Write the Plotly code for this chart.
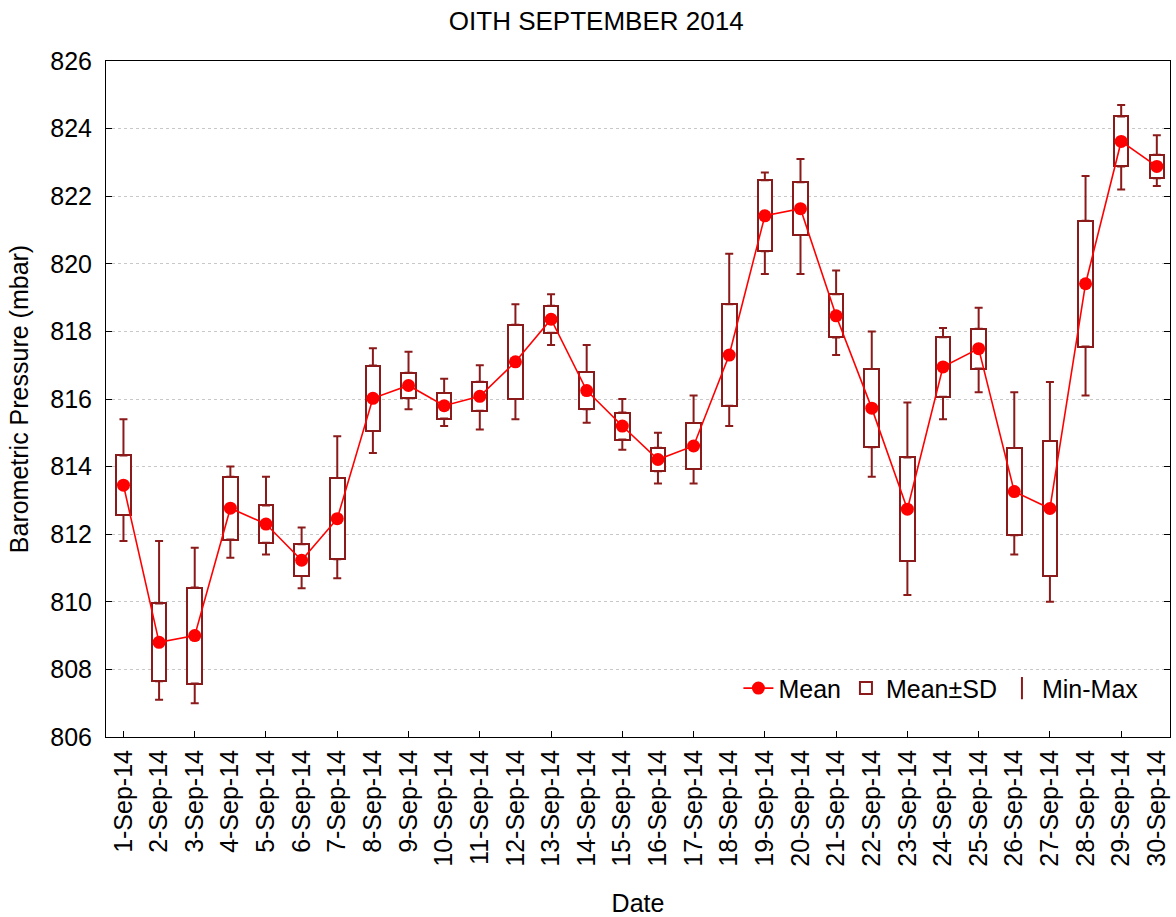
import plotly.graph_objects as go

dates = ["1-Sep-14", "2-Sep-14", "3-Sep-14", "4-Sep-14", "5-Sep-14", "6-Sep-14",
         "7-Sep-14", "8-Sep-14", "9-Sep-14", "10-Sep-14", "11-Sep-14", "12-Sep-14",
         "13-Sep-14", "14-Sep-14", "15-Sep-14", "16-Sep-14", "17-Sep-14", "18-Sep-14",
         "19-Sep-14", "20-Sep-14", "21-Sep-14", "22-Sep-14", "23-Sep-14", "24-Sep-14",
         "25-Sep-14", "26-Sep-14", "27-Sep-14", "28-Sep-14", "29-Sep-14", "30-Sep-14"]

means = [813.45, 808.80, 809.00, 812.77, 812.30, 811.23, 812.46, 816.02, 816.40, 815.80,
         816.08, 817.10, 818.36, 816.25, 815.20, 814.21, 814.61, 817.30, 821.42, 821.63,
         818.46, 815.73, 812.74, 816.95, 817.49, 813.26, 812.76, 819.41, 823.62, 822.88]

sds = [0.88, 1.15, 1.42, 0.93, 0.55, 0.47, 1.20, 0.97, 0.38, 0.38,
       0.43, 1.10, 0.40, 0.55, 0.40, 0.35, 0.68, 1.50, 1.05, 0.78,
       0.64, 1.16, 1.53, 0.88, 0.59, 1.29, 2.00, 1.86, 0.74, 0.35]

mins = [811.8, 807.1, 807.0, 811.3, 811.4, 810.4, 810.7, 814.4, 815.7, 815.2,
        815.1, 815.4, 817.6, 815.3, 814.5, 813.5, 813.5, 815.2, 819.7, 819.7,
        817.3, 813.7, 810.2, 815.4, 816.2, 811.4, 810.0, 816.1, 822.2, 822.3]

maxs = [815.4, 811.8, 811.6, 814.0, 813.7, 812.2, 814.9, 817.5, 817.4, 816.6,
        817.0, 818.8, 819.1, 817.6, 816.0, 815.0, 816.1, 820.3, 822.7, 823.1,
        819.8, 818.0, 815.9, 818.1, 818.7, 816.2, 816.5, 822.6, 824.7, 823.8]

y_ticks = [806, 808, 810, 812, 814, 816, 818, 820, 822, 824, 826]

DARK = "#8B1A1A"
RED = "#FF0000"
FONT = "Liberation Sans, Arial, sans-serif"
FS = 25

xs = list(range(len(dates)))
upper = [m + s for m, s in zip(means, sds)]
lower = [m - s for m, s in zip(means, sds)]

fig = go.Figure()

# Mean ± SD boxes
fig.add_trace(go.Bar(
    x=xs, y=[2 * s for s in sds], base=lower, width=0.41,
    marker=dict(color="white", line=dict(color=DARK, width=2)),
    name="Mean±SD", showlegend=True, hoverinfo="skip", legendrank=2,
))

# Whiskers (upper and lower) with caps
fig.add_trace(go.Scatter(
    x=xs, y=upper, mode="markers", marker=dict(size=0.1, color="rgba(0,0,0,0)"),
    error_y=dict(type="data", symmetric=False,
                 array=[mx - u for mx, u in zip(maxs, upper)],
                 arrayminus=[0] * len(xs), color=DARK, thickness=2, width=4),
    showlegend=False, hoverinfo="skip",
))
fig.add_trace(go.Scatter(
    x=xs, y=lower, mode="markers", marker=dict(size=0.1, color="rgba(0,0,0,0)"),
    error_y=dict(type="data", symmetric=False,
                 array=[0] * len(xs),
                 arrayminus=[lo - mn for lo, mn in zip(lower, mins)],
                 color=DARK, thickness=2, width=4),
    showlegend=False, hoverinfo="skip",
))

# Mean line + markers
fig.add_trace(go.Scatter(
    x=xs, y=means, mode="lines+markers", name="Mean", legendrank=1,
    line=dict(color=RED, width=1.6),
    marker=dict(color=RED, size=13),
))

# legend entry for Min-Max
fig.add_trace(go.Scatter(
    x=[None], y=[None], mode="markers", name="Min-Max", legendrank=3,
    marker=dict(symbol="line-ns-open", size=20, color=DARK, line=dict(color=DARK, width=2)),
))

fig.update_layout(
    width=1176, height=917,
    margin=dict(l=106, r=5, t=61, b=176),
    paper_bgcolor="white", plot_bgcolor="white",
    font=dict(family=FONT, size=FS, color="black"),
    title=dict(text="OITH SEPTEMBER 2014", x=0.507, xref="container", xanchor="center",
               y=1 - 21 / 917, yref="container", yanchor="middle",
               font=dict(family=FONT, size=26, color="black")),
    showlegend=True,
    legend=dict(orientation="h", x=0.975, xanchor="right", y=0.072, yanchor="middle",
                bgcolor="rgba(0,0,0,0)", font=dict(size=FS), itemwidth=30,
                traceorder="normal"),
    bargap=0,
)

fig.update_xaxes(
    range=[-0.49, 29.37], tickmode="array", tickvals=xs, ticktext=dates,
    tickangle=-90, ticks="", showgrid=False, zeroline=False,
    showline=True, linecolor="black", linewidth=1, mirror=True,
    minor=dict(tickmode="array", tickvals=xs[::2], ticks="inside", ticklen=6,
               tickcolor="black", showgrid=False),
    ticklabelstandoff=2,
    title=dict(text="Date", standoff=28, font=dict(size=FS)),
    tickfont=dict(size=FS),
)
fig.update_yaxes(
    range=[806, 826], tickmode="array", tickvals=y_ticks,
    ticks="inside", ticklen=6, tickcolor="black",
    showgrid=True, gridcolor="#c8c8c8", griddash="dot", gridwidth=1,
    zeroline=False, showline=True, linecolor="black", linewidth=1, mirror="ticks",
    ticklabelstandoff=8,
    title=dict(text="Barometric Pressure (mbar)", standoff=14, font=dict(size=FS)),
    tickfont=dict(size=FS),
)

fig.write_html("out.html", config={"displayModeBar": False},
               post_script="document.body.style.margin='0px';")
